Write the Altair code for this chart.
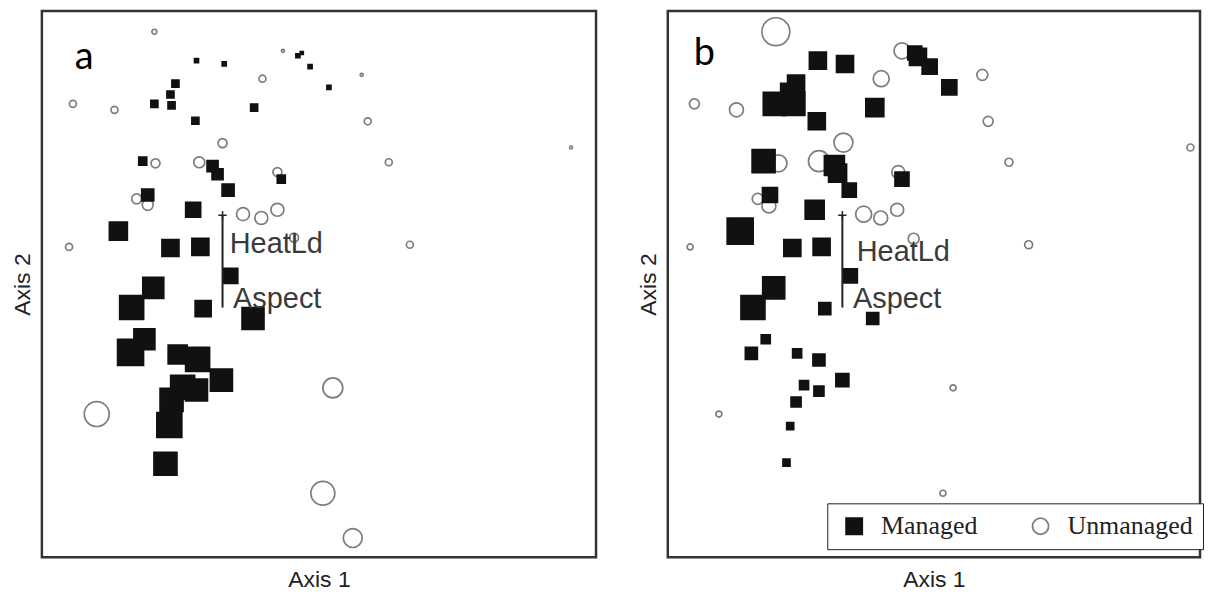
import altair as alt
import pandas as pd

# ---------------- Panel a ----------------
# Unmanaged plots (open circles): Axis 1, Axis 2, abundance (bubble size)
a_unm_x = [20.3, 5.6, 13.1, 39.8, 58.8, 95.5, 43.5, 57.7, 32.6, 20.5, 28.4, 42.5, 62.6,
           17.1, 19.1, 36.3, 39.6, 42.5, 4.9, 66.4, 45.5, 9.9, 52.5, 50.7, 56.1]
a_unm_y = [96.2, 83.0, 81.9, 87.6, 79.8, 75.0, 92.7, 88.3, 75.8, 72.1, 72.3, 70.5, 72.3,
           65.6, 64.5, 62.8, 62.1, 63.6, 56.8, 57.2, 58.5, 26.2, 31.0, 11.7, 3.5]
a_unm_v = [2.5, 4.9, 4.9, 4.9, 4.9, 0.9, 0.9, 0.9, 8.1, 8.1, 12.1, 8.1, 4.9,
           10.0, 12.1, 16.9, 16.9, 16.9, 4.9, 4.9, 8.1, 62.5, 40.0, 57.6, 36.1]
# Managed plots (filled squares)
a_man_x = [27.9, 32.9, 46.2, 46.9, 48.4, 51.8, 24.1, 23.2, 20.3, 23.4, 38.3, 27.7, 18.2,
           30.8, 31.7, 33.6, 43.2, 19.1, 27.3, 13.8, 23.2, 28.6, 34.0, 20.1, 16.2, 29.1,
           38.1, 16.0, 18.5, 24.5, 28.1, 32.4, 25.4, 27.9, 23.4, 23.0, 22.3]
a_man_y = [90.9, 90.3, 91.8, 92.3, 89.8, 86.0, 86.7, 84.7, 83.0, 82.7, 82.3, 79.9, 72.5,
           71.6, 70.1, 67.2, 69.2, 66.3, 63.6, 59.7, 56.6, 56.8, 51.5, 49.3, 45.7, 45.5,
           43.7, 37.5, 39.9, 37.1, 36.2, 32.4, 31.1, 30.6, 28.8, 24.2, 17.1]
a_man_v = [1.6, 1.6, 1.6, 0.9, 1.6, 1.6, 4.9, 4.9, 4.9, 4.9, 4.9, 4.9, 6.4,
           12.1, 12.1, 14.4, 6.4, 14.4, 22.5, 32.4, 28.9, 28.9, 22.5, 44.1, 57.6, 25.6,
           48.4, 67.6, 44.1, 36.1, 57.6, 48.4, 57.6, 48.4, 52.9, 62.5, 52.9]
# Joint-plot vector (origin -> tip) and its labels
a_vec = {"x": 32.6, "y0": 62.6, "y1": 45.7}
a_lab_name = ["HeatLd", "Aspect"]
a_lab_x = [33.9, 34.5]
a_lab_y = [57.4, 47.3]

# ---------------- Panel b ----------------
b_unm_x = [20.3, 44.0, 40.1, 59.1, 5.0, 12.9, 60.2, 98.2, 33.0, 20.8, 28.4, 64.1, 43.3,
           16.9, 19.0, 36.8, 40.0, 43.1, 4.2, 67.8, 46.2, 9.6, 53.6, 51.7]
b_unm_y = [96.2, 92.7, 87.6, 88.3, 83.0, 81.9, 79.8, 75.0, 75.9, 72.1, 72.5, 72.3, 70.5,
           65.6, 64.3, 62.8, 62.1, 63.6, 56.8, 57.2, 58.3, 26.2, 31.0, 11.7]
b_unm_v = [78.4, 25.6, 25.6, 12.1, 10.0, 19.6, 10.0, 4.9, 36.1, 28.9, 44.1, 6.4, 16.9,
           12.1, 19.6, 25.6, 19.6, 16.9, 3.6, 6.4, 12.1, 3.6, 3.6, 3.6]
b_man_x = [28.2, 33.3, 46.4, 47.0, 49.2, 52.9, 24.1, 22.8, 20.1, 23.6, 38.9, 28.0, 18.0,
           31.3, 31.9, 34.1, 44.0, 19.2, 27.6, 13.6, 23.4, 28.9, 34.3, 19.9, 16.0, 29.5,
           38.5, 15.7, 18.4, 24.3, 28.4, 32.8, 25.6, 28.4, 24.1, 23.0, 22.3]
b_man_y = [90.9, 90.3, 92.3, 91.6, 89.8, 86.0, 86.7, 85.2, 83.0, 83.0, 82.3, 79.8, 72.5,
           71.7, 70.3, 67.2, 69.2, 66.3, 63.6, 59.7, 56.6, 56.8, 51.5, 49.3, 45.7, 45.5,
           43.7, 37.3, 39.9, 37.3, 36.1, 32.4, 31.5, 30.4, 28.4, 24.0, 17.3]
b_man_v = [28.9, 28.9, 19.6, 28.9, 22.5, 22.5, 28.9, 28.9, 52.9, 52.9, 32.4, 28.9, 52.9,
           40.0, 32.4, 19.6, 19.6, 22.5, 36.1, 67.6, 28.9, 28.9, 19.6, 48.4, 57.6, 14.4,
           14.4, 14.4, 8.1, 8.1, 14.4, 16.9, 8.1, 10.0, 10.0, 4.9, 4.9]
b_vec = {"x": 32.8, "y0": 62.6, "y1": 45.7}
b_lab_name = ["HeatLd", "Aspect"]
b_lab_x = [35.5, 34.8]
b_lab_y = [55.9, 47.3]

GROUPS = ["Managed", "Unmanaged"]
TEXT_FONT = "Liberation Sans"


def panel(ux, uy, uv, mx, my, mv, vec, lab_name, lab_x, lab_y, letter, letter_xy,
          width, height, legend):
    pts = pd.DataFrame({
        "axis1": ux + mx,
        "axis2": uy + my,
        "abund": uv + mv,
        "group": ["Unmanaged"] * len(ux) + ["Managed"] * len(mx),
    })
    xs = alt.Scale(domain=[0, 100], nice=False, zero=False)
    ys = alt.Scale(domain=[0, 100], nice=False, zero=False)
    xax = alt.Axis(title="Axis 1", labels=False, ticks=False, domain=False, grid=False,
                   titlePadding=11)
    yax = alt.Axis(title="Axis 2", labels=False, ticks=False, domain=False, grid=False,
                   titlePadding=7)

    points = alt.Chart(pts).mark_point(opacity=1, fillOpacity=1, strokeWidth=1.7).encode(
        x=alt.X("axis1:Q", scale=xs, axis=xax),
        y=alt.Y("axis2:Q", scale=ys, axis=yax),
        shape=alt.Shape("group:N", scale=alt.Scale(domain=GROUPS, range=["square", "circle"]),
                        legend=legend),
        fill=alt.Fill("group:N", scale=alt.Scale(domain=GROUPS, range=["#111111", "transparent"]),
                      legend=legend),
        stroke=alt.Stroke("group:N", scale=alt.Scale(domain=GROUPS, range=["#111111", "#7d7d7d"]),
                          legend=legend),
        size=alt.Size("abund:Q", scale=alt.Scale(domain=[0, 90], range=[0, 900]), legend=None),
    )

    vdf = pd.DataFrame({"x": [vec["x"]], "y0": [vec["y0"]], "y1": [vec["y1"]]})
    rule = alt.Chart(vdf).mark_rule(color="#222222", strokeWidth=2).encode(
        x=alt.X("x:Q", scale=xs), y=alt.Y("y0:Q", scale=ys), y2="y1:Q")
    origin = alt.Chart(vdf).mark_point(shape="M-1,0H1M0,-1V1", filled=False, color="#222222",
                                       strokeWidth=1.5, size=70, opacity=1).encode(
        x=alt.X("x:Q", scale=xs), y=alt.Y("y0:Q", scale=ys))

    ldf = pd.DataFrame({"name": lab_name, "x": lab_x, "y": lab_y})
    labels = alt.Chart(ldf).mark_text(align="left", baseline="middle", font=TEXT_FONT,
                                      fontSize=29, color="#3a3a3a").encode(
        x=alt.X("x:Q", scale=xs), y=alt.Y("y:Q", scale=ys), text="name:N")

    let = alt.Chart(pd.DataFrame({"t": [letter]})).mark_text(
        align="left", baseline="alphabetic", font="Lato", fontSize=38, color="#000000").encode(
        x=alt.value(letter_xy[0]), y=alt.value(letter_xy[1]), text="t:N")

    return alt.layer(points, rule, origin, labels, let).properties(width=width, height=height)


legend_b = alt.Legend(
    title=None, orient="none", legendX=160, legendY=494, direction="horizontal",
    strokeColor="#222222", fillColor="#ffffff", padding=10, cornerRadius=0,
    labelFont="Liberation Serif", labelFontSize=26, labelColor="#222222", labelOffset=14,
    symbolSize=260, symbolStrokeWidth=1.8, symbolOffset=4, columnPadding=46,
)

pa = panel(a_unm_x, a_unm_y, a_unm_v, a_man_x, a_man_y, a_man_v, a_vec,
           a_lab_name, a_lab_x, a_lab_y, "a", (33, 58), 556, 548, None)
pb = panel(b_unm_x, b_unm_y, b_unm_v, b_man_x, b_man_y, b_man_v, b_vec,
           b_lab_name, b_lab_x, b_lab_y, "b", (26, 54), 534, 548, legend_b)

chart = alt.hconcat(pa, pb, spacing=38).resolve_scale(
    shape="independent", fill="independent", stroke="independent", size="independent"
).properties(
    padding={"left": 2, "top": 0, "right": 0, "bottom": 0}
).configure_view(
    stroke="#333333", strokeWidth=2.5
).configure_axis(
    titleFont=TEXT_FONT, titleFontSize=23, titleFontWeight="normal", titleColor="#222222"
)

chart.save("out.html", embed_options={"renderer": "svg", "actions": False})
